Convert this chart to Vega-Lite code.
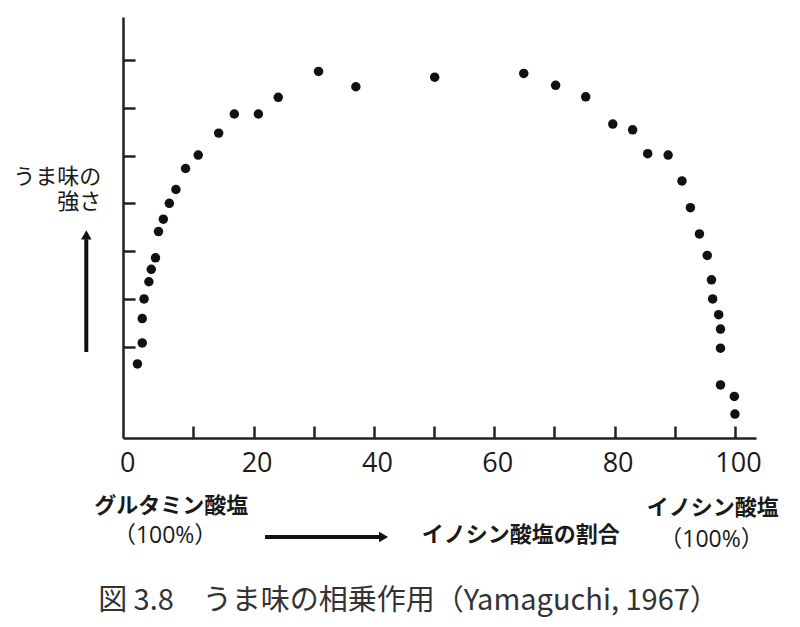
{
  "$schema": "https://vega.github.io/schema/vega-lite/v6.json",
  "width": 633,
  "height": 421,
  "autosize": {"type": "none"},
  "padding": {"left": 123, "top": 17, "right": 44, "bottom": 189},
  "background": "white",
  "config": {"view": {"stroke": null}, "font": "Noto Sans CJK JP"},
  "title": {
    "text": "図 3.8　うま味の相乗作用（Yamaguchi, 1967）",
    "orient": "bottom",
    "anchor": "middle",
    "dx": -31,
    "offset": 35,
    "fontSize": 29,
    "fontWeight": "normal",
    "font": "Noto Sans CJK JP",
    "color": "#333333"
  },
  "datasets": {
    "points": [
      {"pct": 0.7, "umami": 6.4}, {"pct": 1.5, "umami": 10.8}, {"pct": 1.5, "umami": 15.9},
      {"pct": 1.8, "umami": 20.0}, {"pct": 2.6, "umami": 23.6}, {"pct": 3.0, "umami": 26.2},
      {"pct": 3.7, "umami": 28.6}, {"pct": 4.2, "umami": 34.1}, {"pct": 5.0, "umami": 36.7},
      {"pct": 6.0, "umami": 40.0}, {"pct": 7.1, "umami": 42.9}, {"pct": 8.7, "umami": 47.3},
      {"pct": 10.8, "umami": 50.1}, {"pct": 14.2, "umami": 54.7}, {"pct": 16.8, "umami": 58.7},
      {"pct": 20.8, "umami": 58.7}, {"pct": 24.1, "umami": 62.2}, {"pct": 30.8, "umami": 67.6},
      {"pct": 37.0, "umami": 64.4}, {"pct": 50.1, "umami": 66.4}, {"pct": 64.9, "umami": 67.2},
      {"pct": 70.2, "umami": 64.7}, {"pct": 75.2, "umami": 62.3}, {"pct": 79.7, "umami": 56.6},
      {"pct": 83.0, "umami": 55.4}, {"pct": 85.5, "umami": 50.4}, {"pct": 88.9, "umami": 50.1},
      {"pct": 91.2, "umami": 44.7}, {"pct": 92.6, "umami": 39.1}, {"pct": 94.1, "umami": 33.6},
      {"pct": 95.4, "umami": 29.1}, {"pct": 96.1, "umami": 24.0}, {"pct": 96.3, "umami": 20.0},
      {"pct": 97.3, "umami": 16.7}, {"pct": 97.6, "umami": 13.7}, {"pct": 97.6, "umami": 9.7},
      {"pct": 97.6, "umami": 2.0}, {"pct": 99.9, "umami": -0.4}, {"pct": 100.0, "umami": -4.1}
    ],
    "labels": [
      {"kind": "ytitle", "pct": -5.3, "umami": 45.5, "label": "うま味の\n強さ"},
      {"kind": "name", "pct": 6.3, "umami": -23.3, "label": "グルタミン酸塩"},
      {"kind": "name", "pct": 96.3, "umami": -23.8, "label": "イノシン酸塩"},
      {"kind": "name", "pct": 64.4, "umami": -29.4, "label": "イノシン酸塩の割合"},
      {"kind": "paren", "pct": 5.3, "umami": -29.6, "label": "（100%）"},
      {"kind": "paren", "pct": 96.1, "umami": -30.5, "label": "（100%）"}
    ],
    "arrows": [
      {"dir": "right", "pct": 21.9, "pct2": 41.0, "umami": -29.8, "umami2": -29.8, "headPct": 41.6, "headUmami": -29.8},
      {"dir": "up", "pct": -7.8, "pct2": -7.8, "umami": 8.9, "umami2": 32.5, "headPct": -7.8, "headUmami": 33.4}
    ]
  },
  "layer": [
    {
      "data": {"name": "points"},
      "mark": {"type": "circle", "size": 90, "color": "#111111", "opacity": 1},
      "encoding": {
        "x": {
          "field": "pct", "type": "quantitative", "title": null,
          "scale": {"domain": [-1.7, 103.5], "nice": false, "zero": false},
          "axis": {
            "title": null,
            "values": [0, 10, 20, 30, 40, 50, 60, 70, 80, 90, 100],
            "labelExpr": "datum.value % 20 == 0 ? datum.label : ''",
            "grid": false,
            "tickSize": -12,
            "tickWidth": 2.5,
            "tickColor": "#222222",
            "tickOpacity": {"condition": {"test": "datum.value == 0", "value": 0}, "value": 1},
            "domainColor": "#222222",
            "domainWidth": 2.5,
            "labelFont": "Open Sans",
            "labelFontSize": 27,
            "labelColor": "#1a1a1a",
            "labelPadding": 37,
            "labelBaseline": "middle",
            "labelOffset": {"condition": {"test": "datum.value == 0", "value": -6}, "value": 3},
            "labelFlush": false,
            "labelOverlap": false
          }
        },
        "y": {
          "field": "umami", "type": "quantitative", "title": null,
          "scale": {"domain": [-9.1, 79], "nice": false, "zero": false},
          "axis": {
            "title": null,
            "values": [10, 20, 30, 40, 50, 60, 70],
            "labels": false,
            "grid": false,
            "tickSize": -12,
            "tickWidth": 2.5,
            "tickColor": "#222222",
            "domainColor": "#222222",
            "domainWidth": 2.5
          }
        }
      }
    },
    {
      "data": {"name": "labels"},
      "transform": [{"filter": "datum.kind == 'ytitle'"}],
      "mark": {"type": "text", "align": "right", "baseline": "middle", "lineBreak": "\n", "lineHeight": 25, "fontSize": 22, "fontWeight": "normal", "font": "Noto Sans CJK JP", "color": "#1a1a1a"},
      "encoding": {
        "x": {"field": "pct", "type": "quantitative", "title": null},
        "y": {"field": "umami", "type": "quantitative", "title": null},
        "text": {"field": "label"}
      }
    },
    {
      "data": {"name": "labels"},
      "transform": [{"filter": "datum.kind == 'name'"}],
      "mark": {"type": "text", "align": "center", "baseline": "middle", "fontSize": 22, "fontWeight": "bold", "font": "Noto Sans CJK JP", "color": "#1a1a1a"},
      "encoding": {
        "x": {"field": "pct", "type": "quantitative", "title": null},
        "y": {"field": "umami", "type": "quantitative", "title": null},
        "text": {"field": "label"}
      }
    },
    {
      "data": {"name": "labels"},
      "transform": [{"filter": "datum.kind == 'paren'"}],
      "mark": {"type": "text", "align": "center", "baseline": "middle", "fontSize": 23, "fontWeight": "normal", "font": "Open Sans, Noto Sans CJK JP", "color": "#1a1a1a"},
      "encoding": {
        "x": {"field": "pct", "type": "quantitative", "title": null},
        "y": {"field": "umami", "type": "quantitative", "title": null},
        "text": {"field": "label"}
      }
    },
    {
      "data": {"name": "arrows"},
      "mark": {"type": "rule", "strokeWidth": 4, "color": "#111111"},
      "encoding": {
        "x": {"field": "pct", "type": "quantitative", "title": null},
        "x2": {"field": "pct2"},
        "y": {"field": "umami", "type": "quantitative", "title": null},
        "y2": {"field": "umami2"}
      }
    },
    {
      "data": {"name": "arrows"},
      "transform": [{"filter": "datum.dir == 'right'"}],
      "mark": {"type": "point", "shape": "triangle-right", "filled": true, "size": 110, "color": "#111111", "opacity": 1},
      "encoding": {
        "x": {"field": "headPct", "type": "quantitative", "title": null},
        "y": {"field": "headUmami", "type": "quantitative", "title": null}
      }
    },
    {
      "data": {"name": "arrows"},
      "transform": [{"filter": "datum.dir == 'up'"}],
      "mark": {"type": "point", "shape": "triangle-up", "filled": true, "size": 110, "color": "#111111", "opacity": 1},
      "encoding": {
        "x": {"field": "headPct", "type": "quantitative", "title": null},
        "y": {"field": "headUmami", "type": "quantitative", "title": null}
      }
    }
  ]
}
